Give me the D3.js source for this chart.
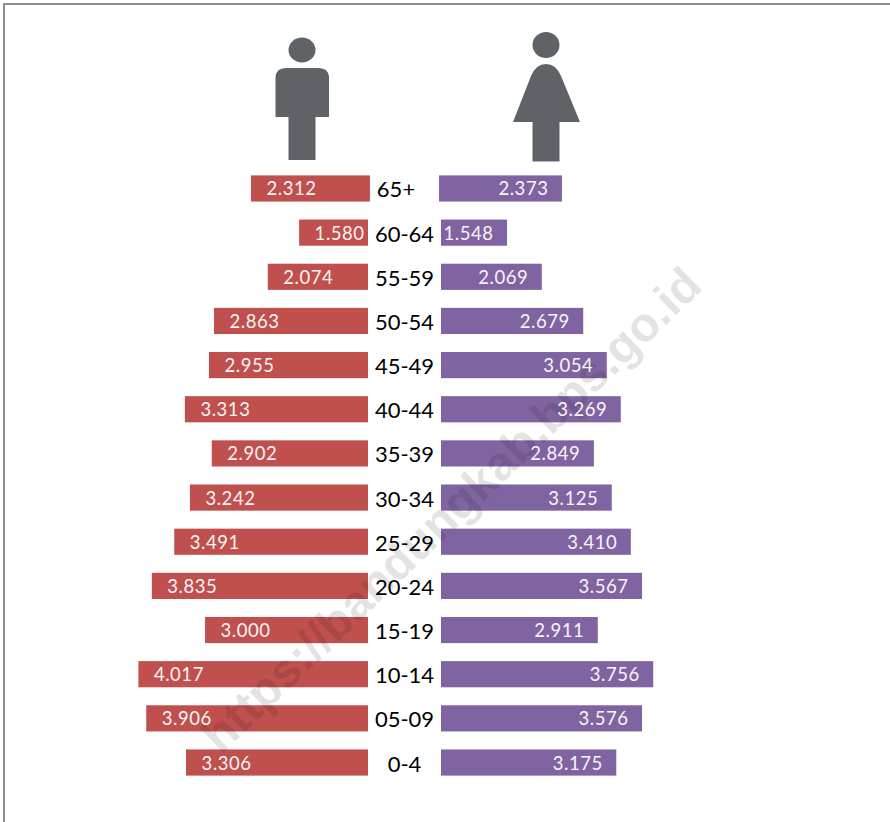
<!DOCTYPE html>
<html><head><meta charset="utf-8">
<script src="https://cdnjs.cloudflare.com/ajax/libs/d3/7.8.5/d3.min.js"></script>
<style>html,body{margin:0;padding:0;background:#fff}svg{display:block}</style>
</head><body><div id="c"></div>
<script>
const ageGroups = ["65+","60-64","55-59","50-54","45-49","40-44","35-39","30-34","25-29","20-24","15-19","10-14","05-09","0-4"];
// Printed labels
const maleLabels = ["2.312","1.580","2.074","2.863","2.955","3.313","2.902","3.242","3.491","3.835","3.000","4.017","3.906","3.306"];
const femaleLabels = ["2.373","1.548","2.069","2.679","3.054","3.269","2.849","3.125","3.410","3.567","2.911","3.756","3.576","3.175"];
// Bar lengths as drawn in the picture (the infographic's bars are not exactly proportional to its labels)
const maleBars = [2.09,1.23,1.79,2.75,2.84,3.27,2.79,3.18,3.46,3.86,2.91,4.10,3.96,3.25];
const femaleBars = [2.16,1.18,1.80,2.54,2.96,3.21,2.73,3.05,3.39,3.59,2.80,3.79,3.59,3.13];
const watermark = "https://bandungkab.bps.go.id";

const W=890,H=822;
const svg=d3.select("#c").append("svg").attr("width",W).attr("height",H);
const font="Lato, Carlito, sans-serif";

svg.append("path").attr("d",`M4,${H}V4H${W}`).attr("fill","none").attr("stroke","#8e8e8e").attr("stroke-width",2);

const y=d3.scaleBand().domain(ageGroups).range([166.4,784.6]).paddingInner(18/44.2).paddingOuter(9/44.2);
const xM=d3.scaleLinear().domain([0,4]).range([368,144]);
const xF=d3.scaleLinear().domain([0,4]).range([441,665]);
// the top row's bars start slightly across the usual baseline
const topRowOverlap = 0.035;

// icons
const icons=svg.append("g").attr("fill","#5f6368");
icons.append("ellipse").attr("cx",302).attr("cy",50).attr("rx",13.5).attr("ry",12.5);
icons.append("path").attr("d","M275.5,117V78Q275.5,68 286,68H318Q329,68 329,78V117H315.5V160H288.5V117Z");
icons.append("ellipse").attr("cx",546).attr("cy",45).attr("rx",13.5).attr("ry",13);
icons.append("path").attr("d","M513,122L531,76Q536,64 546,64Q556,64 561,76L580,122H559.5V161.5H532.5V122Z");

// bars
svg.append("g").selectAll("rect").data(maleBars).join("rect")
 .attr("x",d=>xM(d)).attr("y",(d,i)=>y(ageGroups[i])).attr("height",y.bandwidth()).attr("fill","#c0504d")
 .attr("width",(d,i)=>xM(i===0?-topRowOverlap:0)-xM(d));
svg.append("g").selectAll("rect").data(femaleBars).join("rect")
 .attr("x",(d,i)=>xF(i===0?-topRowOverlap:0)).attr("y",(d,i)=>y(ageGroups[i])).attr("height",y.bandwidth()).attr("fill","#8064a2")
 .attr("width",(d,i)=>xF(d)-xF(i===0?-topRowOverlap:0));

// watermark
svg.append("text").text(watermark).attr("transform","translate(221,755) rotate(-44)")
 .attr("font-family","'Liberation Sans',Arial,sans-serif").attr("font-weight",700).attr("font-size",48)
 .attr("fill","#000").attr("fill-opacity",0.11);

// value labels
const lab=svg.append("g").attr("font-family",font).attr("font-size",18.5).attr("letter-spacing",0.55).attr("fill","#f6f4f6");
lab.selectAll("text.m").data(maleLabels).join("text").attr("class","m").text(d=>d)
 .attr("x",(d,i)=>xM(maleBars[i])+15.5).attr("y",(d,i)=>y(ageGroups[i])+y.bandwidth()/2+7);
lab.selectAll("text.f").data(femaleLabels).join("text").attr("class","f").text(d=>d).attr("text-anchor","end")
 .attr("x",(d,i)=>xF(femaleBars[i])-13.5).attr("y",(d,i)=>y(ageGroups[i])+y.bandwidth()/2+7);

// age labels
svg.append("g").attr("font-family",font).attr("font-size",22).attr("fill","#000")
 .selectAll("text").data(ageGroups).join("text").text(d=>d).attr("text-anchor","middle")
 .attr("x",(d,i)=>i===0?396:404.5).attr("y",d=>y(d)+y.bandwidth()/2+9);
</script></body></html>
